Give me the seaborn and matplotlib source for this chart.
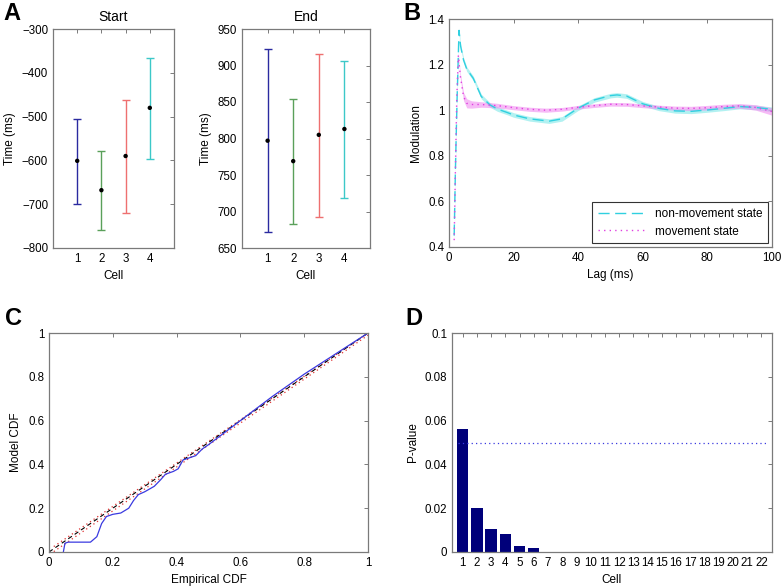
import numpy as np
import pandas as pd
import matplotlib
matplotlib.use("Agg")
import matplotlib.pyplot as plt
from matplotlib.ticker import FuncFormatter
import seaborn as sns

# ---------------- data ----------------
cells_a = [1, 2, 3, 4]
start_mean = [-601, -668, -590, -480]
start_low = [-700, -758, -720, -596]
start_high = [-505, -578, -462, -367]
end_mean = [797, 769, 805, 813]
end_low = [672, 683, 693, 718]
end_high = [922, 854, 916, 906]
cell_colors = ["#2a2aa0", "#5aa05a", "#ee7070", "#3cc8c8"]

lag_nm = [1.6, 2.0, 2.5, 3.1, 3.6, 4.5, 5.5, 7.5, 10, 12.7, 15, 18, 20, 25, 31, 35, 40, 45, 50, 52, 55, 60, 65, 70, 75, 80, 85, 90, 95, 100]
mod_nm = [0.45, 0.75, 1.05, 1.35, 1.28, 1.22, 1.18, 1.14, 1.06, 1.023, 1.005, 0.99, 0.979, 0.962, 0.952, 0.962, 1.009, 1.045, 1.064, 1.067, 1.062, 1.028, 1.008, 0.997, 0.995, 1.001, 1.008, 1.016, 1.012, 1.004]
band_nm = [0.01] * 30

lag_mv = [1.6, 2.0, 2.4, 2.9, 3.5, 4.5, 5.5, 7, 10, 15, 20, 25, 30, 35, 40, 45, 50, 55, 60, 65, 70, 75, 80, 85, 90, 95, 100]
mod_mv = [0.43, 0.75, 1.05, 1.24, 1.15, 1.06, 1.03, 1.025, 1.025, 1.02, 1.011, 1.004, 1.0, 1.004, 1.013, 1.02, 1.026, 1.025, 1.019, 1.014, 1.009, 1.008, 1.011, 1.016, 1.019, 1.012, 0.994]
band_mv = [0.01, 0.01, 0.01, 0.01, 0.012, 0.018, 0.02, 0.016, 0.012, 0.01, 0.009, 0.009, 0.009, 0.008, 0.008, 0.008, 0.008, 0.008, 0.008, 0.008, 0.009, 0.009, 0.01, 0.01, 0.01, 0.012, 0.016]

emp_cdf = [0.045, 0.05, 0.06, 0.10, 0.13, 0.15, 0.165, 0.18, 0.2, 0.225, 0.25, 0.265, 0.28, 0.3, 0.33, 0.35, 0.365, 0.39, 0.405, 0.42, 0.44, 0.46, 0.48, 0.5, 0.55, 0.6, 0.7, 0.8, 0.9, 1.0]
model_cdf = [0.0, 0.04, 0.045, 0.045, 0.045, 0.07, 0.13, 0.162, 0.172, 0.178, 0.2, 0.235, 0.262, 0.275, 0.3, 0.33, 0.355, 0.368, 0.38, 0.42, 0.43, 0.44, 0.47, 0.49, 0.545, 0.6, 0.71, 0.812, 0.906, 1.0]
diag = [0.0, 1.0]
bound_x = [0.015, 1.0]
bound_lo = [0.002, 0.99]
bound_hi = [0.025, 1.0]

cells_d = [str(i) for i in range(1, 23)]
pvals = [0.056, 0.0203, 0.0107, 0.0083, 0.0028, 0.0017] + [0.0] * 16
p_thresh = 0.05

# ---------------- style ----------------
sns.set_style("white")
plt.rcParams['font.family'] = ['Liberation Sans', 'DejaVu Sans']
plt.rcParams['font.size'] = 8
plt.rcParams['text.color'] = 'black'
plt.rcParams['axes.labelcolor'] = 'black'
plt.rcParams['xtick.color'] = 'black'
plt.rcParams['ytick.color'] = 'black'
plt.rcParams['axes.edgecolor'] = '#7a7a7a'
plt.rcParams['axes.linewidth'] = 0.9

fig = plt.figure(figsize=(7.83, 5.86), dpi=100)
W, H = 783.0, 586.0


def mkax(l, t, r, b):
    return fig.add_axes([l / W, 1 - b / H, (r - l) / W, (b - t) / H])


def matlab_ticks(ax):
    ax.tick_params(direction='in', length=3, width=0.7, top=True, right=True,
                   labelsize=8.3, colors='#7a7a7a', labelcolor='black')
    for s in ax.spines.values():
        s.set_visible(True)
        s.set_color('#7a7a7a')


gfmt = FuncFormatter(lambda v, p: ('%g' % round(v, 6)))

# Panel A - Start
axS = mkax(53, 29, 174, 248)
for i in range(4):
    axS.errorbar(cells_a[i], start_mean[i],
                 yerr=[[start_mean[i] - start_low[i]], [start_high[i] - start_mean[i]]],
                 fmt='none', ecolor=cell_colors[i], elinewidth=1.0, capsize=3, capthick=1.0)
sns.scatterplot(x=cells_a, y=start_mean, ax=axS, color='black', s=10, marker='o',
                edgecolor='none', zorder=5)
axS.set_xlim(0, 5)
axS.set_ylim(-800, -300)
axS.set_xticks([1, 2, 3, 4])
axS.set_yticks(np.arange(-800, -299, 100))
axS.set_xlabel('Cell', fontsize=8.5)
axS.set_ylabel('Time (ms)', fontsize=8.5)
axS.set_title('Start', fontsize=10, pad=6)
matlab_ticks(axS)

# Panel A - End
axE = mkax(242, 29, 370, 248)
for i in range(4):
    axE.errorbar(cells_a[i], end_mean[i],
                 yerr=[[end_mean[i] - end_low[i]], [end_high[i] - end_mean[i]]],
                 fmt='none', ecolor=cell_colors[i], elinewidth=1.0, capsize=3, capthick=1.0)
sns.scatterplot(x=cells_a, y=end_mean, ax=axE, color='black', s=10, marker='o',
                edgecolor='none', zorder=5)
axE.set_xlim(0, 5)
axE.set_ylim(650, 950)
axE.set_xticks([1, 2, 3, 4])
axE.set_yticks(np.arange(650, 951, 50))
axE.set_xlabel('Cell', fontsize=8.5)
axE.set_ylabel('Time (ms)', fontsize=8.5)
axE.set_title('End', fontsize=10, pad=6)
matlab_ticks(axE)

# Panel B
axB = mkax(449, 19, 772, 247)
nm = np.array(mod_nm); bnm = np.array(band_nm)
mv = np.array(mod_mv); bmv = np.array(band_mv)
axB.fill_between(lag_nm, nm - bnm, nm + bnm, color='#7fe8e8', alpha=0.6, lw=0)
axB.fill_between(lag_mv, mv - bmv, mv + bmv, color='#f08cf0', alpha=0.6, lw=0)
sns.lineplot(x=lag_nm, y=mod_nm, ax=axB, color='#30d0e0', lw=1.0,
             label='non-movement state')
sns.lineplot(x=lag_mv, y=mod_mv, ax=axB, color='#e040e0', lw=1.0,
             label='movement state')
axB.lines[0].set_linestyle((0, (8, 4)))
axB.lines[1].set_linestyle((0, (1, 3)))
axB.set_xlim(0, 100)
axB.set_ylim(0.4, 1.4)
axB.set_xticks(np.arange(0, 101, 20))
axB.set_yticks([0.4, 0.6, 0.8, 1.0, 1.2, 1.4])
axB.yaxis.set_major_formatter(gfmt)
axB.set_xlabel('Lag (ms)', fontsize=8.5)
axB.set_ylabel('Modulation', fontsize=8.5)
matlab_ticks(axB)
leg = axB.legend(loc='lower right', fontsize=8.5, frameon=True, fancybox=False,
                 borderaxespad=0.3, handlelength=4.0, edgecolor='black',
                 borderpad=0.5, labelspacing=0.5)
leg.get_frame().set_linewidth(0.8)
for h, ls in zip(leg.get_lines(), [(0, (8, 4)), (0, (1, 3))]):
    h.set_linestyle(ls)

# Panel C
axC = mkax(49, 333, 368, 552)
sns.lineplot(x=bound_x, y=bound_lo, ax=axC, color='#e03030', lw=0.9)
sns.lineplot(x=bound_x, y=bound_hi, ax=axC, color='#e03030', lw=0.9)
sns.lineplot(x=diag, y=diag, ax=axC, color='black', lw=0.8)
sns.lineplot(x=emp_cdf, y=model_cdf, ax=axC, color='#3a3ae0', lw=0.9, sort=False)
axC.lines[0].set_linestyle((0, (1, 2.5)))
axC.lines[1].set_linestyle((0, (1, 2.5)))
axC.lines[2].set_linestyle((0, (4, 3)))
axC.set_xlim(0, 1)
axC.set_ylim(0, 1)
axC.set_xticks(np.arange(0, 1.01, 0.2))
axC.set_yticks(np.arange(0, 1.01, 0.2))
axC.xaxis.set_major_formatter(gfmt)
axC.yaxis.set_major_formatter(gfmt)
axC.set_xlabel('Empirical CDF', fontsize=8.5)
axC.set_ylabel('Model CDF', fontsize=8.5)
matlab_ticks(axC)

# Panel D
axD = mkax(452, 333, 772, 552)
dfD = pd.DataFrame({'Cell': cells_d, 'P': pvals})
sns.barplot(data=dfD, x='Cell', y='P', ax=axD, color='#00007a', width=0.8,
            saturation=1, edgecolor='none')
axD.axhline(p_thresh, color='#3a3ae0', lw=0.9, ls=(0, (1, 2.5)), xmin=0.02, xmax=0.98)
axD.set_xlim(-0.75, 21.75)
axD.set_ylim(0, 0.1)
axD.set_yticks([0, 0.02, 0.04, 0.06, 0.08, 0.1])
axD.yaxis.set_major_formatter(gfmt)
axD.set_xlabel('Cell', fontsize=8.5)
axD.set_ylabel('P-value', fontsize=8.5)
matlab_ticks(axD)

# Panel letters
for txt, x, y in [('A', 3, 2), ('B', 403, 2), ('C', 5, 307), ('D', 405, 307)]:
    fig.text(x / W, 1 - y / H, txt, fontsize=17, fontweight='bold', va='top', ha='left',
             color='black')

fig.savefig('out.png', dpi=100)
